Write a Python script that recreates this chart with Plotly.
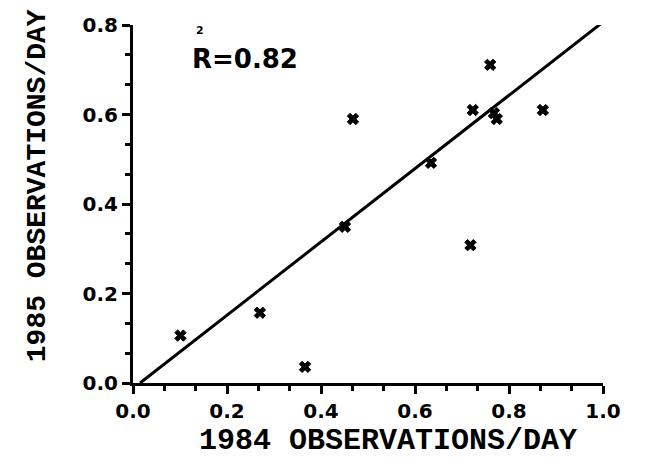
import plotly.graph_objects as go

# Sighting rates per station: 1984 vs 1985
obs_1984 = [0.101, 0.270, 0.366, 0.451, 0.468, 0.634, 0.718, 0.723, 0.760, 0.768, 0.774, 0.872]
obs_1985 = [0.106, 0.157, 0.036, 0.349, 0.590, 0.492, 0.308, 0.610, 0.711, 0.603, 0.590, 0.610]

# Least-squares line drawn across the plot
fit_intercept = -0.0123
fit_slope = 0.819
fit_x = [0.015, 1.0]
fit_y = [fit_intercept + fit_slope * x for x in fit_x]

r_squared = "0.82"
x_ticks = [0.0, 0.2, 0.4, 0.6, 0.8, 1.0]
y_ticks = [0.0, 0.2, 0.4, 0.6, 0.8]
x_title = "1984 OBSERVATIONS/DAY"
y_title = "1985 OBSERVATIONS/DAY"

sans_bold = "DejaVu Sans, Liberation Sans, sans-serif"
mono_bold = "Liberation Mono, Courier New, monospace"
tick_font = dict(family=sans_bold, size=20, color="black", weight="bold")

fig = go.Figure()
fig.add_trace(go.Scatter(
    x=fit_x, y=fit_y, mode="lines",
    line=dict(color="black", width=3), showlegend=False, hoverinfo="skip",
))
fig.add_trace(go.Scatter(
    x=obs_1984, y=obs_1985, mode="markers",
    marker=dict(symbol="x", size=10, color="black", line=dict(width=1, color="black")),
    showlegend=False, cliponaxis=False,
))

axis_common = dict(
    showgrid=False, zeroline=False, showline=True, linecolor="black", linewidth=3,
    ticks="outside", ticklen=8, tickwidth=3, tickcolor="black",
    tickfont=tick_font, tickformat=".1f",
    minor=dict(ticks="outside", ticklen=5, tickwidth=3, tickcolor="black", dtick=0.2 / 3),
)

fig.update_xaxes(range=[0, 1.0], tickvals=x_ticks, **axis_common)
fig.update_yaxes(range=[0, 0.8], tickvals=y_ticks, **axis_common)

# Axis titles
fig.add_annotation(
    x=0.5426, y=-0.163, xref="paper", yref="paper", xanchor="center", yanchor="middle",
    text=x_title, showarrow=False, borderpad=0,
    font=dict(family=mono_bold, size=30, color="black", weight="bold"),
)
fig.add_annotation(
    x=-0.204, y=0.550, xref="paper", yref="paper", xanchor="center", yanchor="middle",
    text=y_title, showarrow=False, textangle=-90,
    font=dict(family=mono_bold, size=28, color="black", weight="bold"),
)

# Goodness of fit label, with the exponent set above the R
fig.add_annotation(
    x=0.121, y=0.725, xref="x", yref="y", xanchor="left", yanchor="middle",
    text="R=" + r_squared, showarrow=False,
    font=dict(family=sans_bold, size=26, color="black", weight="bold"),
)
fig.add_annotation(
    x=0.142, y=0.787, xref="x", yref="y", xanchor="center", yanchor="middle",
    text="2", showarrow=False, borderpad=0,
    font=dict(family=sans_bold, size=11, color="black", weight="bold"),
)

fig.update_layout(
    width=655, height=465,
    margin=dict(l=133, r=52, t=25, b=82),
    paper_bgcolor="white", plot_bgcolor="white",
)

fig.write_html("out.html")
